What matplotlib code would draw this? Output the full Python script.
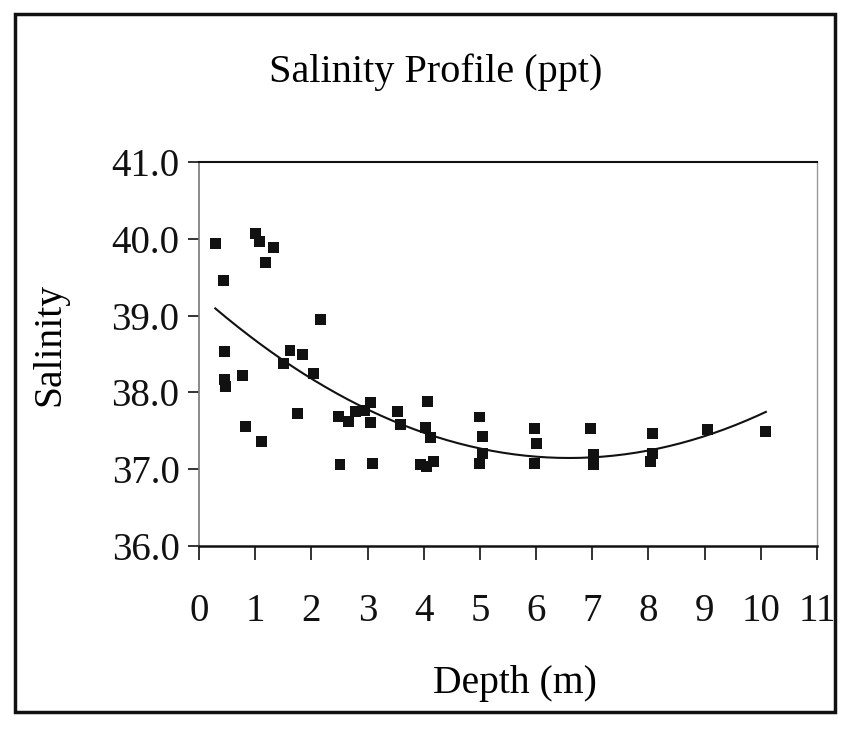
import numpy as np
import matplotlib
matplotlib.use("Agg")
import matplotlib.pyplot as plt
from matplotlib.patches import Rectangle

# ---- data ----
depth = [0.29, 0.43, 0.46, 0.46, 0.48, 0.78, 0.82, 1.00, 1.07, 1.18, 1.32, 1.12,
         1.50, 1.62, 1.85, 1.75, 2.16, 2.03, 2.51, 2.48, 2.66, 2.78, 2.95, 3.05,
         3.05, 3.08, 3.53, 3.58, 4.06, 4.03, 4.12, 3.94, 4.05, 4.17,
         5.00, 5.05, 5.05, 5.00, 5.97, 6.00, 5.97,
         6.97, 7.02, 7.02, 8.07, 8.07, 8.04, 9.05, 10.09]
salinity = [39.94, 39.46, 38.53, 38.17, 38.08, 38.22, 37.56, 40.07, 39.97, 39.69, 39.89, 37.36,
            38.38, 38.54, 38.49, 37.73, 38.95, 38.25, 37.06, 37.69, 37.62, 37.75, 37.77, 37.87,
            37.61, 37.08, 37.75, 37.58, 37.88, 37.54, 37.41, 37.06, 37.03, 37.10,
            37.68, 37.43, 37.20, 37.07, 37.53, 37.33, 37.07,
            37.53, 37.19, 37.06, 37.47, 37.20, 37.10, 37.52, 37.49]

x_ticks = list(range(0, 12))
y_ticks = [36.0, 37.0, 38.0, 39.0, 40.0, 41.0]

title = "Salinity Profile (ppt)"
xlabel = "Depth (m)"
ylabel = "Salinity"

serif = ["Liberation Serif", "DejaVu Serif"]

fig = plt.figure(figsize=(8.47, 7.30), dpi=100)
fig.patch.set_facecolor("white")

# outer frame
fig.add_artist(Rectangle((15 / 847, 1 - 712 / 730), (835 - 15) / 847, (712 - 14) / 730,
                         transform=fig.transFigure, fill=False, edgecolor="#111111",
                         linewidth=2.5))

ax = fig.add_axes([199 / 847, 1 - 546 / 730, (817 - 199) / 847, (546 - 162) / 730])

ax.scatter(depth, salinity, marker="s", s=62, color="#111111", edgecolors="none", zorder=3)

# second-order polynomial trendline fitted to the data
coef = np.polyfit(depth, salinity, 2)
xs = np.linspace(min(depth), max(depth), 200)
ax.plot(xs, np.polyval(coef, xs), color="#111111", linewidth=1.5, zorder=2)

ax.set_xlim(0, 11)
ax.set_ylim(36, 41)
ax.set_xticks(x_ticks)
ax.set_xticklabels([str(t) for t in x_ticks], fontfamily=serif, fontsize=28)
ax.set_yticks(y_ticks)
ax.set_yticklabels([f"{t:.1f}" for t in y_ticks], fontfamily=serif, fontsize=28)
ax.tick_params(axis="x", direction="out", length=10, width=1.2, pad=24, colors="#111111")
ax.tick_params(axis="y", direction="out", length=8, width=1.2, pad=6, colors="#111111")

ax.spines["top"].set_color("#111111")
ax.spines["top"].set_linewidth(1.5)
ax.spines["bottom"].set_color("#111111")
ax.spines["bottom"].set_linewidth(1.8)
ax.spines["left"].set_color("#777777")
ax.spines["left"].set_linewidth(1.2)
ax.spines["right"].set_color("#999999")
ax.spines["right"].set_linewidth(1.0)

fig.text(436 / 847, 1 - 72 / 730, title, ha="center", va="center",
         fontfamily=serif, fontsize=29)
fig.text(515 / 847, 1 - 683 / 730, xlabel, ha="center", va="center",
         fontfamily=serif, fontsize=28.5)
fig.text(50 / 847, 1 - 344 / 730, ylabel, ha="center", va="center", rotation=90,
         fontfamily=serif, fontsize=28.5)

fig.savefig("out.png", dpi=100, facecolor="white")
